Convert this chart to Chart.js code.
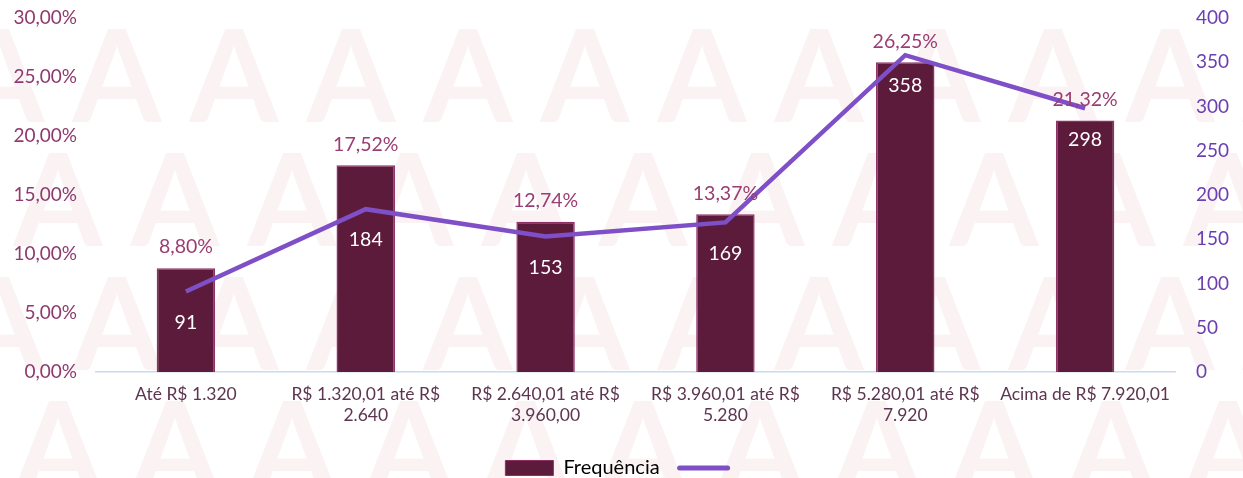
<!DOCTYPE html>
<html>
<head>
<meta charset="utf-8">
<script src="https://cdn.jsdelivr.net/npm/chart.js@4.4.0/dist/chart.umd.min.js"></script>
<style>
  html, body { margin: 0; padding: 0; background: #fff; }
  #wrap { width: 1243px; height: 478px; }
</style>
</head>
<body>
<div id="wrap"><canvas id="grafico"></canvas></div>
<script>
// Dados
const faixas = [
  'Até R$ 1.320',
  ['R$ 1.320,01 até R$', '2.640'],
  ['R$ 2.640,01 até R$', '3.960,00'],
  ['R$ 3.960,01 até R$', '5.280'],
  ['R$ 5.280,01 até R$', '7.920'],
  'Acima de R$ 7.920,01'
];
const percentuais = [8.80, 17.52, 12.74, 13.37, 26.25, 21.32];
const frequencias = [91, 184, 153, 169, 358, 298];
const ticksPercentual = [0, 5, 10, 15, 20, 25, 30];
const ticksFrequencia = [0, 50, 100, 150, 200, 250, 300, 350, 400];

const fonte = 'Lato, "Open Sans", sans-serif';

function formataPct(v) {
  return v.toFixed(2).replace('.', ',') + '%';
}

// Marca d'água com letras "A" ao fundo
const marcaDagua = {
  id: 'marcaDagua',
  beforeDraw(chart) {
    const c = chart.ctx;
    c.save();
    c.fillStyle = '#faf2f3';
    c.font = 'bold 128px ' + fonte;
    c.textAlign = 'center';
    c.textBaseline = 'alphabetic';
    const linhas = [122, 246, 370, 494];
    linhas.forEach((y, i) => {
      const desloc = i % 2 ? 58 : 0;
      for (let x = desloc - 117; x < chart.width + 117; x += 117) {
        c.fillText('A', x, y);
      }
    });
    c.restore();
  }
};

// Rótulos: percentual acima da barra e frequência abaixo do ponto da linha
const rotulos = {
  id: 'rotulos',
  afterDatasetsDraw(chart) {
    const c = chart.ctx;
    const barras = chart.getDatasetMeta(0).data;
    const pontos = chart.getDatasetMeta(1).data;
    c.save();
    c.textAlign = 'center';
    c.textBaseline = 'middle';
    c.font = '19.5px ' + fonte;
    c.fillStyle = '#9a3d72';
    barras.forEach((b, i) => {
      c.fillText(formataPct(percentuais[i]), b.x, b.y - 21);
    });
    c.fillStyle = '#ffffff';
    pontos.forEach((p, i) => {
      c.fillText(String(frequencias[i]), p.x, p.y + 31);
    });
    c.restore();
  }
};

// Tira o espaço extra que o Chart.js reserva acima/abaixo dos eixos verticais
function ajustaEixoY(largura) {
  return function (scale) {
    scale.width = largura;
    scale.paddingTop = 0;
    scale.paddingBottom = 0;
  };
}

const ctx = document.getElementById('grafico').getContext('2d');
const grafico = new Chart(ctx, {
  data: {
    labels: faixas,
    datasets: [
      {
        type: 'bar',
        label: 'Frequência',
        data: percentuais,
        yAxisID: 'yPct',
        backgroundColor: '#5c1b3b',
        borderColor: '#8e2f66',
        borderWidth: 1.5,
        barPercentage: 0.65,
        categoryPercentage: 0.5,
        order: 2
      },
      {
        type: 'line',
        label: '',
        data: frequencias,
        yAxisID: 'yFreq',
        borderColor: '#7e4fc6',
        backgroundColor: '#7e4fc6',
        borderWidth: 4.5,
        pointRadius: 0,
        tension: 0,
        order: 1
      }
    ]
  },
  options: {
    responsive: true,
    maintainAspectRatio: false,
    animation: false,
    layout: { padding: { top: 18, bottom: -10 } },
    plugins: {
      tooltip: { enabled: false },
      legend: {
        position: 'bottom',
        labels: {
          usePointStyle: true,
          pointStyleWidth: 48,
          boxHeight: 15,
          padding: 20,
          color: '#404040',
          font: { family: fonte, size: 20 },
          generateLabels(chart) {
            return [
              {
                text: 'Frequência',
                fillStyle: '#5c1b3b',
                strokeStyle: '#8e2f66',
                lineWidth: 1,
                pointStyle: 'rect',
                datasetIndex: 0
              },
              {
                text: '',
                fillStyle: '#7e4fc6',
                strokeStyle: '#7e4fc6',
                lineWidth: 5,
                lineCap: 'round',
                pointStyle: 'line',
                datasetIndex: 1
              }
            ];
          }
        }
      }
    },
    scales: {
      x: {
        grid: { display: false, drawTicks: false },
        border: { display: true, color: '#c9daf0', width: 1.5 },
        ticks: {
          color: '#5d3550',
          font: { family: fonte, size: 17.5 },
          padding: 12,
          maxRotation: 0,
          autoSkip: false
        },
        afterFit(scale) { scale.height = 66; }
      },
      yPct: {
        position: 'left',
        min: 0,
        max: 30,
        afterBuildTicks(scale) {
          scale.ticks = ticksPercentual.map(v => ({ value: v }));
        },
        grid: { display: false, drawTicks: false },
        border: { display: false },
        ticks: {
          color: '#8e3a6e',
          font: { family: fonte, size: 19 },
          padding: 19,
          callback: v => formataPct(v)
        },
        afterFit: ajustaEixoY(96)
      },
      yFreq: {
        position: 'right',
        min: 0,
        max: 400,
        afterBuildTicks(scale) {
          scale.ticks = ticksFrequencia.map(v => ({ value: v }));
        },
        grid: { display: false, drawTicks: false },
        border: { display: false },
        ticks: {
          color: '#6b3fb0',
          font: { family: fonte, size: 19 },
          padding: 21
        },
        afterFit: ajustaEixoY(68)
      }
    }
  },
  plugins: [marcaDagua, rotulos]
});
</script>
</body>
</html>
